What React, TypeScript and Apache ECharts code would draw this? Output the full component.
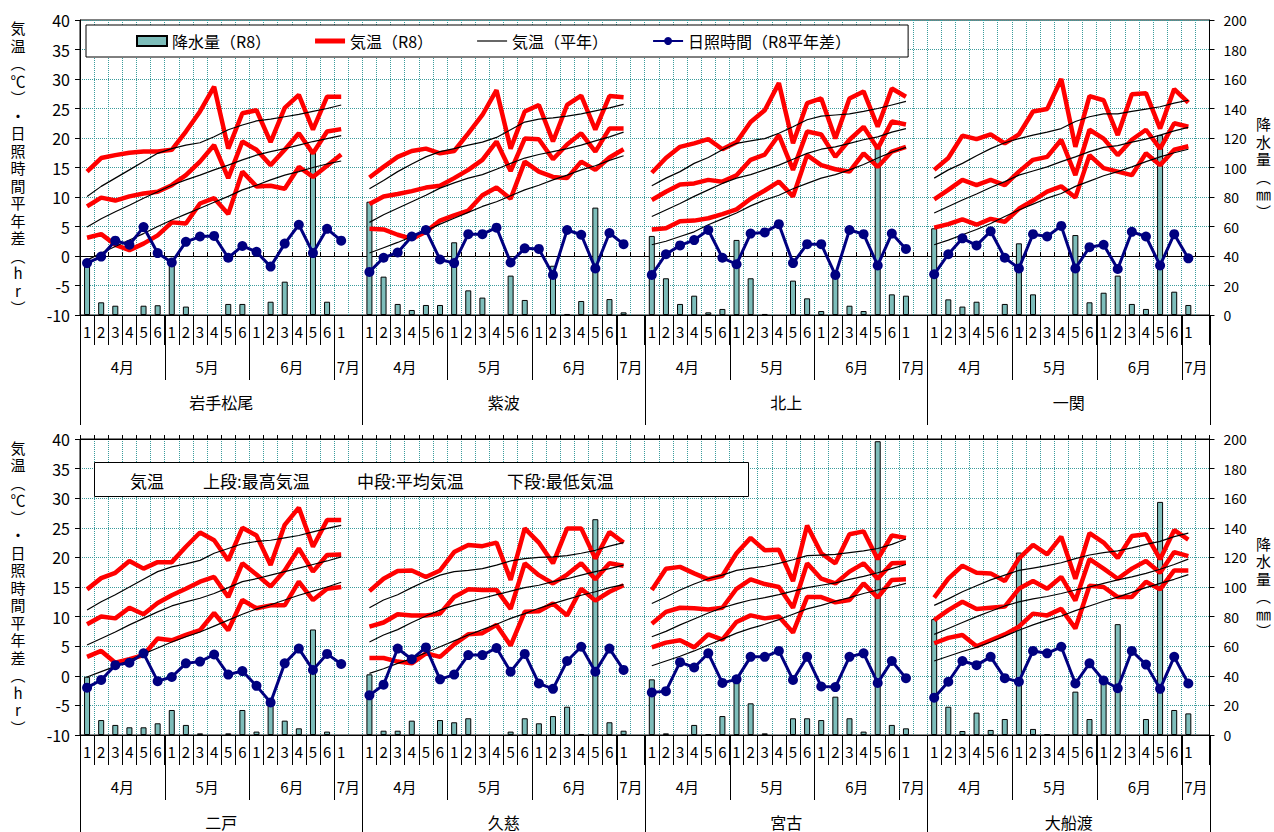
import React, { useEffect, useRef } from 'react';
import * as echarts from 'echarts';

const stations = ['岩手松尾', '紫波', '北上', '一関', '二戸', '久慈', '宮古', '大船渡'];
const pentadLabels = ['1', '2', '3', '4', '5', '6', '1', '2', '3', '4', '5', '6', '1', '2', '3', '4', '5', '6', '1', ''];
const monthLabels = ['4月', '5月', '6月', '7月'];
const monthCenters = [3, 9, 15, 19];
const monthBounds = [0, 6, 12, 18];
const SLOTS = 20;

// 降水量 (mm), pentads Apr1..Jul1
const precip = [
  [37.7, 8.6, 6.3, null, 6.3, 6.6, 36.2, 5.7, null, null, 7.5, 7.5, null, 9.0, 22.6, null, 112, 9.0, null],
  [76.8, 26.0, 7.5, 3.4, 6.8, 6.8, 49.3, 16.7, 11.8, null, 26.7, 10.2, null, 33.4, 0.7, 9.5, 72.8, 10.8, 1.8],
  [53.6, 24.9, 7.5, 13.1, 1.8, 4.1, 50.9, 24.9, 0.7, null, 23.3, 11.3, 2.7, 28, 6.3, 2.7, 116, 14.0, 13.1],
  [58.8, 10.6, 5.7, 9.0, null, 7.5, 48.6, 14.0, null, null, 54.2, 8.6, 15.1, 26.7, 7.5, 4.1, 122, 15.8, 6.8],
  [39.4, 10.1, 6.8, 5.2, 5.2, 7.9, 16.9, 6.8, 1.1, null, 1.1, 16.9, 2.3, 22.5, 9.7, 4.5, 71.3, 2.3, null],
  [41.0, 2.9, 2.9, 9.7, null, 10.1, 8.6, 11.3, null, null, 2.3, 11.3, 7.9, 12.8, 19.1, 0.5, 145.8, 8.6, 2.9],
  [37.6, 1.1, null, 6.8, 0.5, 12.8, 39.4, 21.4, 1.1, null, 11.3, 11.3, 10.1, 25.9, 11.3, 2.3, 198.5, 6.8, 4.5],
  [78.3, 19.1, 2.7, 15.1, 3.4, 10.8, 123.3, 4.1, 0.5, null, 29.3, 10.8, 38, 74.9, null, 10.8, 157.5, 16.9, 14.6],
];

const maxR8 = [
  [14.3, 16.6, 17.1, 17.5, 17.7, 17.7, 18.0, 21.1, 24.5, 28.7, 18.2, 24.2, 24.7, 19.3, 25.1, 27.3, 21.4, 27.0, 27.0],
  [13.3, 15.1, 16.8, 17.8, 18.2, 17.4, 17.8, 20.8, 23.9, 28.1, 18.2, 24.5, 25.6, 19.4, 25.6, 27.2, 21.4, 27.1, 26.9],
  [14.1, 16.6, 18.5, 19.1, 19.8, 18.1, 19.3, 22.7, 24.7, 29.3, 19.1, 25.9, 26.7, 19.9, 26.7, 27.9, 21.9, 28.4, 27.0],
  [14.6, 16.6, 20.4, 19.8, 20.6, 19.1, 20.6, 24.5, 24.9, 30.0, 18.5, 27.1, 26.4, 20.5, 27.4, 27.6, 21.6, 28.3, 26.0],
  [14.6, 16.5, 17.4, 19.4, 18.1, 19.2, 19.2, 21.8, 24.2, 22.9, 19.5, 25.0, 23.7, 18.7, 25.5, 28.4, 21.8, 26.3, 26.3],
  [14.3, 16.4, 17.7, 17.8, 16.7, 17.8, 20.9, 22.1, 21.9, 22.5, 16.2, 24.9, 22.5, 19.0, 24.9, 24.9, 19.8, 24.3, 22.5],
  [14.5, 18.1, 18.4, 17.3, 16.3, 16.9, 20.7, 23.3, 21.2, 21.3, 16.0, 25.4, 20.7, 19.0, 23.9, 24.4, 19.7, 23.7, 23.3],
  [13.2, 16.4, 18.6, 17.4, 17.3, 16.0, 19.8, 22.1, 20.5, 23.5, 16.4, 24.1, 22.5, 19.9, 23.6, 23.9, 19.7, 24.6, 23.0],
];

const meanR8 = [
  [8.4, 9.9, 9.4, 10.1, 10.6, 10.9, 12.0, 13.7, 16.0, 18.8, 13.2, 19.4, 18.0, 15.4, 18.0, 20.8, 17.4, 21.1, 21.5],
  [8.8, 10.1, 10.5, 11.0, 11.6, 11.9, 13.2, 14.6, 16.3, 19.4, 14.4, 19.9, 19.8, 16.4, 18.9, 20.8, 17.7, 21.6, 21.6],
  [9.5, 10.9, 12.1, 12.3, 12.9, 12.6, 13.7, 16.3, 17.2, 20.5, 14.6, 21.1, 20.6, 16.8, 19.7, 21.9, 18.2, 22.8, 22.3],
  [9.6, 11.2, 12.9, 12.0, 12.9, 12.0, 14.3, 16.3, 16.8, 19.7, 13.7, 21.4, 19.9, 17.1, 19.7, 21.4, 18.2, 22.5, 21.9],
  [8.7, 10.0, 9.7, 11.5, 10.4, 12.3, 13.6, 14.7, 15.9, 16.7, 13.3, 19.0, 17.1, 15.1, 17.8, 21.5, 17.6, 20.4, 20.5],
  [8.3, 9.0, 10.4, 10.2, 10.2, 10.5, 13.3, 14.6, 14.5, 14.5, 11.3, 19.0, 17.0, 15.6, 17.1, 19.0, 16.3, 19.0, 18.6],
  [8.8, 10.8, 11.5, 11.4, 11.2, 11.5, 14.7, 16.3, 15.5, 15.0, 11.5, 19.0, 16.4, 15.6, 17.6, 19.0, 16.4, 19.0, 19.1],
  [9.4, 11.1, 12.5, 11.3, 11.5, 11.7, 14.7, 16.0, 14.7, 16.7, 12.7, 19.7, 18.1, 16.4, 18.1, 19.4, 17.4, 20.9, 20.2],
];

const minR8 = [
  [3.1, 3.7, 1.9, 1.0, 2.1, 3.5, 5.7, 5.5, 8.9, 9.8, 7.1, 14.3, 11.8, 11.9, 11.4, 15.1, 13.4, 15.3, 17.2],
  [4.6, 4.5, 3.6, 2.9, 4.1, 6.0, 6.9, 7.7, 10.3, 11.6, 9.7, 16.0, 14.3, 13.4, 13.2, 16.0, 14.6, 16.7, 18.1],
  [4.5, 4.7, 5.9, 6.0, 6.4, 7.1, 7.9, 9.7, 11.1, 12.6, 10.1, 17.1, 15.4, 14.7, 14.3, 17.4, 15.1, 17.7, 18.5],
  [4.8, 5.4, 6.2, 5.3, 6.3, 5.8, 8.0, 9.4, 10.9, 11.8, 9.9, 17.1, 14.9, 14.3, 13.7, 17.4, 15.4, 18.0, 18.6],
  [3.2, 4.2, 2.2, 2.8, 3.5, 6.3, 6.0, 6.9, 7.7, 10.6, 7.7, 12.8, 11.4, 11.9, 11.9, 15.9, 12.8, 14.7, 15.0],
  [3.0, 3.0, 2.4, 2.1, 3.8, 3.2, 5.3, 7.0, 7.2, 8.6, 5.1, 10.8, 10.9, 12.2, 10.2, 14.7, 12.7, 14.2, 15.3],
  [4.8, 5.6, 6.0, 4.8, 7.0, 6.1, 9.1, 10.2, 9.7, 10.0, 7.3, 13.3, 13.3, 12.4, 12.8, 15.6, 13.2, 16.2, 16.3],
  [5.5, 6.4, 6.9, 5.0, 6.0, 7.0, 8.3, 10.5, 10.2, 11.3, 8.0, 15.2, 15.0, 13.3, 13.3, 15.9, 14.6, 17.8, 17.8],
];

const maxNormal = [
  [10.1, 11.8, 13.2, 14.6, 16.0, 17.4, 18.2, 18.8, 19.2, 20.2, 21.4, 22.2, 22.9, 23.2, 23.6, 24.0, 24.5, 25.0, 25.6],
  [11.4, 12.8, 14.3, 15.6, 16.8, 17.7, 18.2, 18.8, 19.3, 20.1, 21.4, 22.7, 23.2, 23.4, 23.7, 24.1, 24.6, 25.1, 25.7],
  [11.9, 13.2, 14.3, 15.7, 16.7, 18.0, 19.1, 19.5, 19.9, 20.8, 21.9, 23.1, 23.7, 23.9, 24.1, 24.5, 25.0, 25.6, 26.2],
  [13.2, 14.6, 15.7, 17.0, 18.2, 19.2, 19.9, 20.5, 21.0, 21.6, 22.8, 23.6, 24.1, 24.1, 24.5, 24.9, 25.3, 25.9, 26.4],
  [11.1, 12.5, 13.7, 15.0, 16.3, 17.6, 18.4, 18.9, 19.5, 20.7, 21.5, 22.3, 22.7, 22.9, 23.3, 23.7, 24.3, 24.9, 25.4],
  [11.5, 12.8, 13.7, 14.9, 16.0, 17.0, 17.6, 17.8, 18.1, 18.7, 19.4, 19.8, 20.0, 20.1, 20.3, 20.7, 21.2, 21.9, 22.5],
  [12.2, 13.3, 14.5, 15.5, 16.4, 17.0, 17.8, 18.2, 18.5, 19.0, 19.6, 20.3, 20.4, 20.5, 20.8, 21.1, 21.5, 22.2, 23.1],
  [11.9, 13.0, 14.2, 15.2, 16.2, 17.0, 17.8, 18.2, 18.6, 19.1, 19.8, 20.4, 20.8, 21.1, 21.6, 22.2, 22.7, 23.5, 24.1],
];

const meanNormal = [
  [4.9, 6.3, 7.5, 8.6, 9.8, 10.9, 12.0, 12.9, 13.7, 14.6, 15.4, 16.3, 17.1, 17.7, 18.2, 18.8, 19.4, 19.9, 20.4],
  [5.7, 7.0, 8.1, 9.2, 10.3, 11.5, 12.4, 13.2, 13.8, 14.7, 15.7, 16.6, 17.2, 17.7, 18.2, 18.8, 19.5, 20.2, 21.0],
  [6.7, 7.8, 8.9, 10.1, 11.2, 12.3, 13.2, 13.8, 14.6, 15.4, 16.4, 17.4, 18.1, 18.5, 19.1, 19.7, 20.2, 21.0, 21.6],
  [7.3, 8.4, 9.5, 10.5, 11.6, 12.6, 13.7, 14.4, 15.1, 16.0, 16.8, 17.7, 18.4, 18.7, 19.3, 19.8, 20.5, 21.2, 21.8],
  [5.2, 6.3, 7.4, 8.6, 9.7, 10.8, 11.8, 12.5, 13.1, 13.9, 14.9, 15.9, 16.4, 17.0, 17.6, 18.2, 18.8, 19.4, 20.1],
  [5.7, 6.9, 7.8, 9.0, 10.1, 11.1, 11.9, 12.5, 13.1, 13.7, 14.3, 14.9, 15.3, 15.9, 16.4, 17.0, 17.6, 18.1, 18.7],
  [6.6, 7.5, 8.6, 9.6, 10.6, 11.5, 12.2, 12.8, 13.2, 13.7, 14.3, 14.9, 15.3, 15.7, 16.3, 16.8, 17.4, 18.1, 18.8],
  [7.0, 8.0, 9.0, 10.0, 10.9, 11.8, 12.5, 13.0, 13.4, 13.9, 14.5, 15.0, 15.6, 16.2, 16.7, 17.3, 18.0, 18.8, 19.7],
];

const minNormal = [
  [-0.7, 0.5, 1.6, 2.7, 3.8, 5.0, 6.1, 7.1, 8.1, 9.1, 10.1, 11.2, 12.0, 12.9, 13.7, 14.3, 15.0, 15.6, 16.1],
  [0.5, 1.4, 2.3, 3.3, 4.3, 5.4, 6.4, 7.4, 8.4, 9.2, 10.2, 11.2, 12.0, 12.9, 13.7, 14.6, 15.3, 16.2, 17.0],
  [1.9, 2.5, 3.3, 4.1, 5.3, 6.3, 7.3, 8.5, 9.5, 10.3, 11.4, 12.3, 13.2, 13.8, 14.6, 15.5, 16.6, 17.6, 18.4],
  [1.9, 2.7, 3.6, 4.5, 5.5, 6.7, 7.8, 8.8, 9.8, 10.6, 11.8, 12.7, 13.6, 14.3, 15.1, 16.0, 16.8, 17.5, 18.1],
  [-0.2, 0.7, 1.6, 2.6, 3.7, 4.7, 5.7, 6.6, 7.4, 8.4, 9.4, 10.4, 11.3, 12.0, 12.8, 13.6, 14.3, 15.0, 15.8],
  [0.4, 1.2, 2.1, 2.9, 3.9, 4.9, 5.9, 6.9, 7.8, 8.7, 9.7, 10.5, 11.4, 12.2, 12.9, 13.6, 14.2, 14.9, 15.4],
  [1.7, 2.5, 3.3, 4.2, 5.2, 6.2, 7.2, 8.0, 8.7, 9.5, 10.4, 11.3, 11.9, 12.6, 13.2, 13.9, 14.5, 15.0, 15.6],
  [2.5, 3.3, 4.1, 4.8, 5.7, 6.7, 7.7, 8.6, 9.4, 10.1, 11.0, 11.8, 12.6, 13.3, 14.1, 14.9, 15.6, 16.3, 17.1],
];

const sunDiff = [
  [-1.2, -0.1, 2.6, 1.9, 4.9, 0.5, -1.1, 2.4, 3.3, 3.4, -0.3, 1.7, 0.7, -1.8, 2.1, 5.3, 0.5, 4.6, 2.6],
  [-2.7, -0.3, 0.6, 3.3, 4.4, -0.6, -1.2, 3.7, 3.7, 4.8, -1.1, 1.3, 1.2, -3.2, 4.4, 3.6, -2.1, 3.9, 2.0],
  [-3.2, 0.3, 1.8, 2.7, 4.4, -0.3, -1.4, 3.8, 4.0, 5.4, -1.2, 2.0, 2.0, -3.2, 4.4, 3.7, -1.6, 3.8, 1.2],
  [-3.1, 0.3, 3.0, 1.8, 4.2, -0.3, -2.1, 3.7, 3.3, 5.1, -2.1, 1.5, 1.9, -2.2, 4.1, 3.3, -1.6, 3.7, -0.4],
  [-2.0, -0.7, 1.8, 2.2, 3.8, -0.9, -0.2, 2.1, 2.4, 3.6, 0.2, 0.8, -1.7, -4.5, 2.1, 4.6, 1.0, 3.7, 2.0],
  [-3.3, -1.5, 4.6, 2.8, 4.8, -0.6, 0.2, 3.5, 3.5, 4.7, 0.7, 3.7, -1.3, -2.2, 2.5, 4.9, 0.7, 4.6, 1.0],
  [-2.8, -2.6, 2.3, 1.4, 3.8, -1.2, -0.6, 3.2, 3.2, 4.2, -0.7, 3.2, -1.8, -1.9, 3.2, 3.8, -1.2, 2.5, -0.4],
  [-3.7, -1.0, 2.5, 1.8, 3.2, -0.4, -1.0, 4.2, 3.8, 4.9, -1.3, 2.1, -0.8, -2.1, 4.2, 1.9, -2.2, 3.2, -1.3],
];

const NAME_PRECIP = '降水量（R8）';
const NAME_TEMP = '気温（R8）';
const NAME_NORMAL = '気温（平年）';
const NAME_SUN = '日照時間（R8平年差）';
const leftTitle = ['気', '温', '︵', '℃', '︶', '・', '日', '照', '時', '間', '平', '年', '差', '︵', 'h', 'r', '︶'].join('\n');
const rightTitle = ['降', '水', '量', '︵', '㎜', '︶'].join('\n');
const noteTexts = ['気温', '上段:最高気温', '中段:平均気温', '下段:最低気温'];

const FONT = "'Noto Sans CJK JP', 'Noto Sans', sans-serif";
const GRID_COLOR = '#3a9c9c';
const BAR_COLOR = '#7dbdba';
const RED = '#ff0000';
const NAVY = '#000080';

const panelTops = [20, 439];
const panelHeights = [295, 296];

function flat(rows: (number | null)[][], p: number) {
  const out: (number | null)[] = [];
  for (let s = p * 4; s < p * 4 + 4; s++) {
    out.push(...rows[s], null);
  }
  return out;
}

function buildOption() {
  const grids: any[] = [];
  const xAxes: any[] = [];
  const yAxes: any[] = [];
  const series: any[] = [];

  const monthTickVals: number[] = [];
  const monthLabelVals: number[] = [];
  const stationTickVals: number[] = [0];
  const stationLabelVals: number[] = [];
  for (let s = 0; s < 4; s++) {
    monthBounds.forEach((b) => monthTickVals.push(s * SLOTS + b));
    monthCenters.forEach((c) => monthLabelVals.push(s * SLOTS + c));
    stationTickVals.push((s + 1) * SLOTS);
    stationLabelVals.push(s * SLOTS + SLOTS / 2);
  }
  monthTickVals.push(80);

  for (let p = 0; p < 2; p++) {
    grids.push({
      left: 80, top: panelTops[p], width: 1130, height: panelHeights[p],
      show: true, borderColor: '#000', borderWidth: 1, backgroundColor: 'transparent',
    });
  }
  for (let p = 0; p < 2; p++) {
    for (let k = 0; k < 2; k++) {
      grids.push({ left: 80, top: panelTops[p], width: 1130, height: panelHeights[p], show: false });
    }
  }

  for (let p = 0; p < 2; p++) {
    const cats: string[] = [];
    for (let s = 0; s < 4; s++) {
      for (let i = 0; i < SLOTS; i++) cats.push(stations[p * 4 + s] + '-' + i);
    }
    xAxes.push({
      type: 'category', gridIndex: p, data: cats, position: 'bottom', boundaryGap: true,
      axisLine: { show: true, onZero: false, lineStyle: { color: '#000', width: 1 } },
      axisTick: {
        show: true, length: 30, lineStyle: { color: '#000', width: 1 },
        interval: (idx: number) => idx % SLOTS !== SLOTS - 1,
      },
      axisLabel: {
        interval: 0, margin: 9, fontSize: 15, color: '#000', fontFamily: FONT,
        formatter: (_v: string, idx: number) => pentadLabels[idx % SLOTS],
      },
      splitLine: { show: true, interval: 0, lineStyle: { color: GRID_COLOR, type: 'dotted', width: 1 } },
    });
    xAxes.push({
      type: 'category', gridIndex: p, data: cats, position: 'top',
      axisLine: { show: true, onZero: true, onZeroAxisIndex: 0, lineStyle: { color: '#000', width: 1 } },
      axisTick: { show: true, interval: 0, length: 4, lineStyle: { color: '#000' } },
      axisLabel: { show: false },
      splitLine: { show: false },
    });
  }
  for (let p = 0; p < 2; p++) {
    xAxes.push({
      type: 'value', gridIndex: 2 + p * 2, min: 0, max: 80, position: 'bottom',
      axisLine: { show: false },
      axisTick: { show: true, customValues: monthTickVals, length: 65, lineStyle: { color: '#000', width: 1 } },
      axisLabel: {
        show: true, customValues: monthLabelVals, margin: 44, fontSize: 15, color: '#000', fontFamily: FONT,
        formatter: (v: number) => {
          const r = Math.round(v) % SLOTS;
          const k = monthCenters.indexOf(r);
          return k >= 0 ? monthLabels[k] : '';
        },
      },
      splitLine: { show: false },
    });
    xAxes.push({
      type: 'value', gridIndex: 3 + p * 2, min: 0, max: 80, position: 'bottom',
      axisLine: { show: false },
      axisTick: { show: true, customValues: stationTickVals, length: 110, lineStyle: { color: '#000', width: 1 } },
      axisLabel: {
        show: true, customValues: stationLabelVals, margin: 79, fontSize: 16, color: '#000', fontFamily: FONT,
        formatter: (v: number) => stations[p * 4 + Math.floor(v / SLOTS)] || '',
      },
      splitLine: { show: false },
    });
  }

  for (let p = 0; p < 2; p++) {
    yAxes.push({
      type: 'value', gridIndex: p, min: -10, max: 40, interval: 5, position: 'left',
      axisLine: { show: true, lineStyle: { color: '#000', width: 1 } },
      axisTick: { show: true, length: 5, lineStyle: { color: '#000' } },
      axisLabel: { fontSize: 16, color: '#000', margin: 10, fontFamily: FONT },
      splitLine: { show: true, lineStyle: { color: GRID_COLOR, type: 'dotted', width: 1 } },
      name: leftTitle, nameLocation: 'middle', nameRotate: 0, nameGap: 62,
      nameTextStyle: { fontSize: 15, lineHeight: 17.5, color: '#000', align: 'center', verticalAlign: 'middle', fontFamily: FONT },
    });
    yAxes.push({
      type: 'value', gridIndex: p, min: 0, max: 200, interval: 20, position: 'right',
      axisLine: { show: true, lineStyle: { color: '#000', width: 1 } },
      axisTick: { show: true, length: 5, lineStyle: { color: '#000' } },
      axisLabel: { fontSize: 14, color: '#000', margin: 14, fontFamily: FONT },
      splitLine: { show: false },
      name: rightTitle, nameLocation: 'middle', nameRotate: 0, nameGap: 54,
      nameTextStyle: { fontSize: 15, lineHeight: 17.5, color: '#000', align: 'center', verticalAlign: 'middle', fontFamily: FONT },
    });
  }
  for (let k = 0; k < 4; k++) {
    yAxes.push({ type: 'value', gridIndex: 2 + k, min: 0, max: 1, show: false });
  }

  for (let p = 0; p < 2; p++) {
    const xi = p * 2;
    const yl = p * 2;
    const yr = p * 2 + 1;
    series.push({
      type: 'bar', name: NAME_PRECIP, xAxisIndex: xi, yAxisIndex: yr, data: flat(precip, p),
      barWidth: 6, itemStyle: { color: BAR_COLOR, borderColor: '#000', borderWidth: 1 },
    });
    [maxR8, meanR8, minR8].forEach((rows) => {
      series.push({
        type: 'line', name: NAME_TEMP, xAxisIndex: xi, yAxisIndex: yl, data: flat(rows, p),
        symbol: 'none', lineStyle: { color: RED, width: 4.5 }, itemStyle: { color: RED },
      });
    });
    [maxNormal, meanNormal, minNormal].forEach((rows) => {
      series.push({
        type: 'line', name: NAME_NORMAL, xAxisIndex: xi, yAxisIndex: yl, data: flat(rows, p),
        symbol: 'none', lineStyle: { color: '#000', width: 1.2 }, itemStyle: { color: '#000' },
      });
    });
    series.push({
      type: 'line', name: NAME_SUN, xAxisIndex: xi, yAxisIndex: yl, data: flat(sunDiff, p),
      symbol: 'circle', symbolSize: 10, showSymbol: true,
      lineStyle: { color: NAVY, width: 3 }, itemStyle: { color: NAVY },
    });
  }

  const noteX = [130, 203, 357, 507];
  const graphic: any[] = [
    {
      type: 'rect', left: 94, top: 462, z: 10,
      shape: { width: 654, height: 34 },
      style: { fill: '#fff', stroke: '#000', lineWidth: 1 },
    },
    ...noteTexts.map((t, i) => ({
      type: 'text', x: noteX[i], y: 480, z: 11,
      style: { text: t, fontSize: 17, fill: '#000', fontFamily: FONT, verticalAlign: 'middle' },
    })),
  ];

  return {
    animation: false,
    backgroundColor: '#fff',
    textStyle: { fontFamily: FONT },
    grid: grids,
    xAxis: xAxes,
    yAxis: yAxes,
    series,
    graphic,
    legend: {
      left: 86, top: 25, orient: 'horizontal',
      data: [
        { name: NAME_PRECIP, icon: 'rect' },
        { name: NAME_TEMP, icon: 'path://M0,0H30V5H0Z' },
        { name: NAME_NORMAL, icon: 'path://M0,0H30V1.2H0Z' },
        NAME_SUN,
      ],
      itemWidth: 30, itemHeight: 10, itemGap: 44,
      padding: [8, 57, 8, 50],
      backgroundColor: '#fff', borderColor: '#000', borderWidth: 1,
      textStyle: { fontSize: 16, color: '#000', fontFamily: FONT },
      selectedMode: false,
    },
  };
}

export default function App() {
  const ref = useRef<HTMLDivElement>(null);
  useEffect(() => {
    if (!ref.current) return;
    const chart = echarts.init(ref.current, undefined, { renderer: 'svg' });
    chart.setOption(buildOption() as any);
    return () => chart.dispose();
  }, []);
  return (
    <div
      ref={ref}
      style={{ position: 'fixed', left: 0, top: 0, width: 1274, height: 832, background: '#fff' }}
    />
  );
}
